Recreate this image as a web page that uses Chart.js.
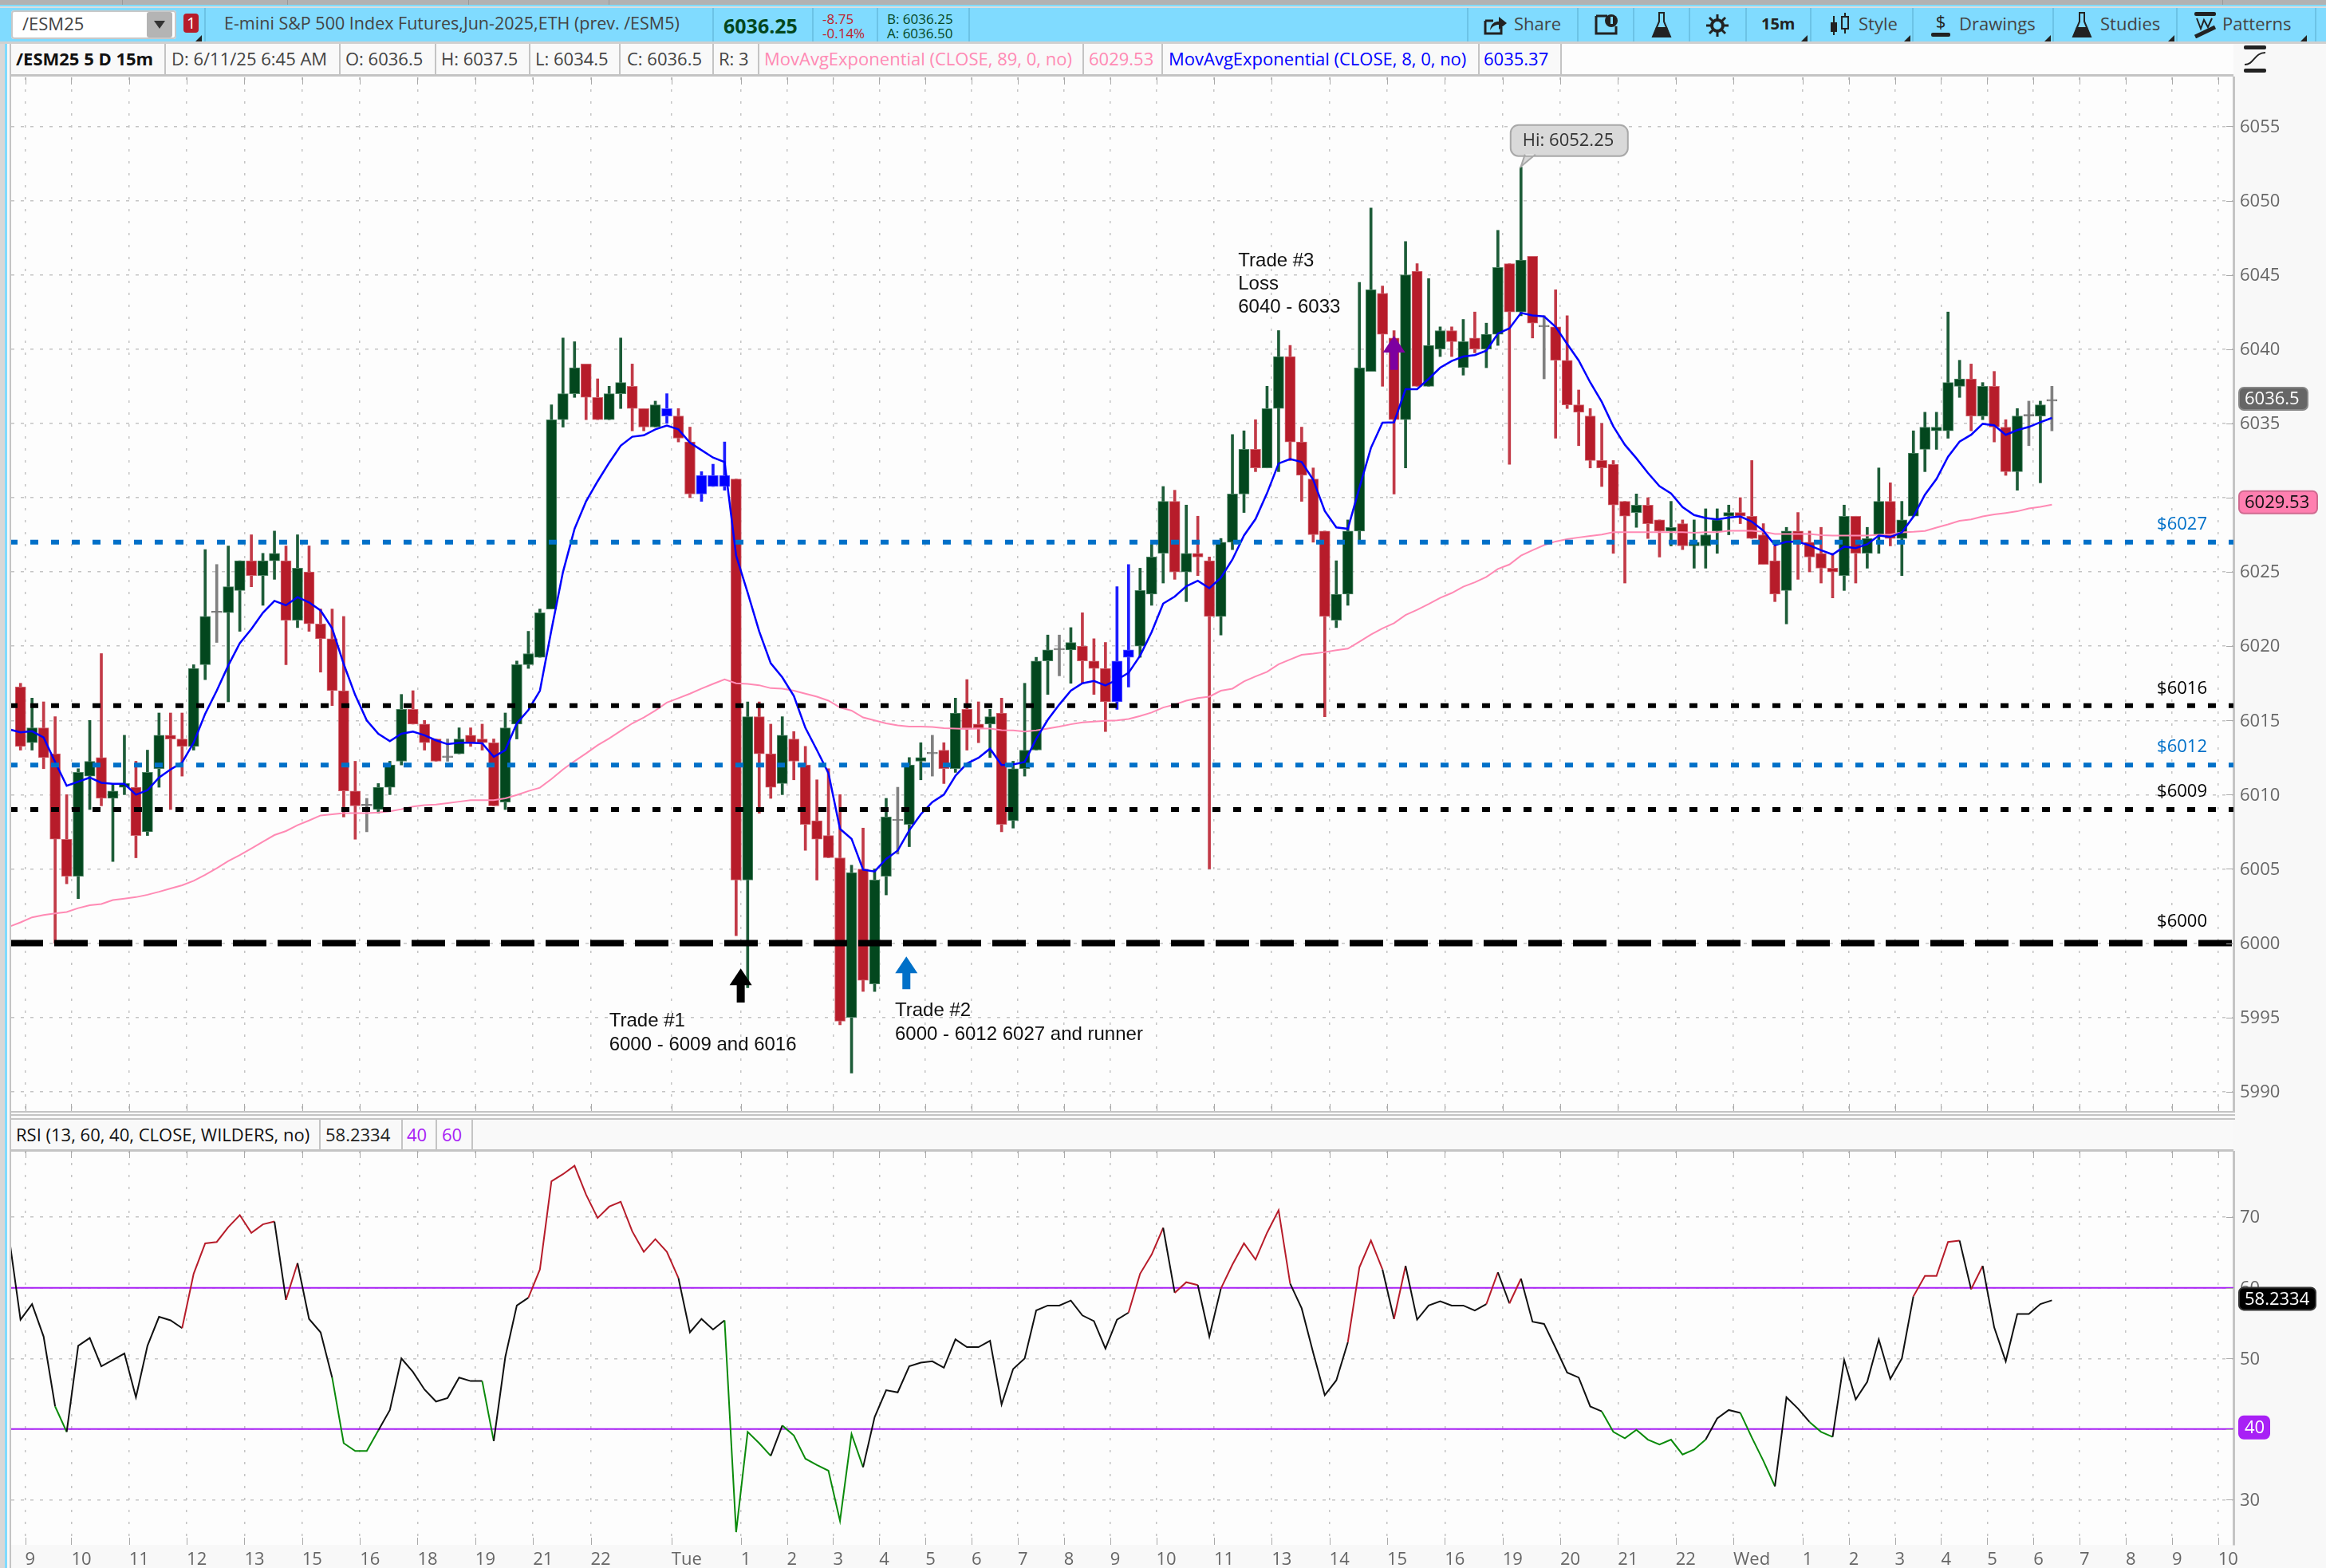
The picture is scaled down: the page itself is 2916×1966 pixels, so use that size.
<!DOCTYPE html>
<html>
<head>
<meta charset="utf-8">
<title>/ESM25 5 D 15m</title>
<script src="https://cdn.jsdelivr.net/npm/chart.js@4"></script>
<style>
  html, body { margin: 0; padding: 0; background: #f8f8f8; }
  body { position: relative; width: 2916px; height: 1966px; overflow: hidden; font-family: "Open Sans", sans-serif; }
  canvas { position: absolute; left: 0; }
  .box { position: absolute; }
  .t { position: absolute; white-space: nowrap; line-height: 1; transform: translateY(-50%); font-size: 22px; color: #444; }
  .div { position: absolute; width: 2px; background: #c4c4c4; }
  .bar-div { position: absolute; width: 2px; top: 10px; height: 42px; background: #6cc3e6; }
  svg { position: absolute; }
</style>
</head>
<body>
  <!-- window chrome -->
  <div class="box" style="left:0;top:0;width:2916px;height:6px;background:#b2b2b2"></div>
  <div class="box" style="left:0;top:6px;width:2916px;height:2px;background:#80dbff"></div>
  <div class="box" style="left:0;top:8px;width:2916px;height:2px;background:#dcdcdc"></div>
  <div class="box" style="left:0;top:10px;width:2916px;height:42px;background:#80dbff"></div>
  <div class="box" style="left:0;top:52px;width:2916px;height:3px;background:#d0d0d0"></div>
  <div class="box" style="left:0;top:55px;width:6px;height:1911px;background:#d8d8d8"></div>
  <div class="box" style="left:6px;top:55px;width:3px;height:1911px;background:#80dbff"></div>
  <div class="box" style="left:12px;top:55px;width:2px;height:1911px;background:#c4c4c4"></div>
  <div class="box" style="left:153px;top:0;width:1px;height:6px;background:#999"></div>
  <div class="box" style="left:360px;top:0;width:1px;height:6px;background:#999"></div>
  <div class="box" style="left:587px;top:0;width:1px;height:6px;background:#999"></div>
  <div class="box" style="left:763px;top:0;width:1px;height:6px;background:#999"></div>
  <div class="box" style="left:2786px;top:0;width:1px;height:6px;background:#999"></div>

  <!-- symbol box -->
  <div class="box" style="left:14px;top:13px;width:207px;height:36px;background:#fff;border-radius:4px;box-shadow:0 0 0 2px #c8c8c8 inset"></div>
  <div class="box" style="left:184px;top:15px;width:32px;height:32px;background:#b4b4b4;border-radius:3px"></div>
  <svg style="left:193px;top:26px" width="14" height="10"><path d="M0 0H14L7 10Z" fill="#333"/></svg>
  <div class="t" style="left:28px;top:29px">/ESM25</div>
  <div class="box" style="left:230px;top:17px;width:19px;height:24px;background:#b71c2a;border-radius:4px"></div>
  <div class="t" style="left:234px;top:29px;color:#fff;font-size:20px">1</div>
  <svg style="left:245px;top:44px" width="8" height="8"><path d="M8 0V8H0Z" fill="#222"/></svg>
  <div class="bar-div" style="left:256px"></div>
  <div class="t" style="left:281px;top:29px;font-size:21.5px">E-mini S&amp;P 500 Index Futures,Jun-2025,ETH (prev. /ESM5)</div>
  <div class="bar-div" style="left:893px"></div>
  <div class="t" style="left:907px;top:32px;font-size:25px;font-weight:700;color:#03471e">6036.25</div>
  <div class="bar-div" style="left:1018px"></div>
  <div class="t" style="left:1031px;top:23px;font-size:17px;color:#c0202c">-8.75</div>
  <div class="t" style="left:1031px;top:41px;font-size:17px;color:#c0202c">-0.14%</div>
  <div class="bar-div" style="left:1099px"></div>
  <div class="t" style="left:1112px;top:23px;font-size:17px;color:#03471e">B: 6036.25</div>
  <div class="t" style="left:1112px;top:41px;font-size:17px;color:#03471e">A: 6036.50</div>
  <div class="bar-div" style="left:1214px"></div>

  <!-- right side of the toolbar -->
  <div class="bar-div" style="left:1839px"></div>
  <svg style="left:1860px;top:18px" width="30" height="26"><path d="M2 8H12M2 8V24H22V16" fill="none" stroke="#222" stroke-width="3"/><path d="M8 20C9 11 14 9 19 9V3L29 11L19 19V13C14 13 11 15 8 20Z" fill="#222"/></svg>
  <div class="t" style="left:1898px;top:29px">Share</div>
  <div class="bar-div" style="left:1977px"></div>
  <svg style="left:1999px;top:17px" width="30" height="28"><path d="M2 3H16M2 3V25H27V16" fill="none" stroke="#222" stroke-width="3"/><circle cx="21" cy="9" r="8" fill="#222"/><rect x="20" y="4" width="3" height="9" fill="#80dbff"/></svg>
  <div class="bar-div" style="left:2047px"></div>
  <svg style="left:2070px;top:14px" width="26" height="34"><path d="M9 2H17M10 2V13L2 32H24L16 13V2" fill="none" stroke="#222" stroke-width="2"/><path d="M6 20H20L24 32H2Z" fill="#222"/></svg>
  <div class="bar-div" style="left:2117px"></div>
  <svg style="left:2139px;top:18px" width="28" height="28"><circle cx="14" cy="14" r="7" fill="none" stroke="#222" stroke-width="4"/><path d="M14 0V28M0 14H28M4 4L24 24M24 4L4 24" stroke="#222" stroke-width="3"/><circle cx="14" cy="14" r="5" fill="#80dbff"/></svg>
  <div class="bar-div" style="left:2188px"></div>
  <div class="t" style="left:2208px;top:30px;font-size:20px;font-weight:700;color:#222">15m</div>
  <svg style="left:2258px;top:44px" width="8" height="8"><path d="M8 0V8H0Z" fill="#222"/></svg>
  <div class="bar-div" style="left:2269px"></div>
  <svg style="left:2293px;top:14px" width="26" height="34"><path d="M6 6V30M20 2V28" stroke="#222" stroke-width="2"/><rect x="2" y="14" width="8" height="12" fill="#222"/><rect x="16" y="7" width="8" height="15" fill="#80dbff" stroke="#222" stroke-width="2"/></svg>
  <div class="t" style="left:2330px;top:29px">Style</div>
  <svg style="left:2387px;top:44px" width="8" height="8"><path d="M8 0V8H0Z" fill="#222"/></svg>
  <div class="bar-div" style="left:2397px"></div>
  <svg style="left:2421px;top:14px" width="24" height="34"><rect x="0" y="27" width="24" height="5" rx="2" fill="#222"/><text x="12" y="21" text-anchor="middle" font-size="22" font-family="Open Sans" fill="#222">$</text></svg>
  <div class="t" style="left:2456px;top:29px">Drawings</div>
  <svg style="left:2563px;top:44px" width="8" height="8"><path d="M8 0V8H0Z" fill="#222"/></svg>
  <div class="bar-div" style="left:2573px"></div>
  <svg style="left:2597px;top:14px" width="26" height="34"><path d="M9 2H17M10 2V13L2 32H24L16 13V2" fill="none" stroke="#222" stroke-width="2"/><path d="M6 20H20L24 32H2Z" fill="#222"/></svg>
  <div class="t" style="left:2633px;top:29px">Studies</div>
  <svg style="left:2718px;top:44px" width="8" height="8"><path d="M8 0V8H0Z" fill="#222"/></svg>
  <div class="bar-div" style="left:2728px"></div>
  <svg style="left:2751px;top:14px" width="28" height="34"><rect x="0" y="1" width="27" height="5" rx="2" fill="#222"/><path d="M3 9L8 22L12 11L17 20L22 9" fill="none" stroke="#222" stroke-width="2"/><path d="M1 32L26 20" stroke="#222" stroke-width="5"/></svg>
  <div class="t" style="left:2786px;top:29px">Patterns</div>
  <svg style="left:2884px;top:44px" width="8" height="8"><path d="M8 0V8H0Z" fill="#222"/></svg>
  <div class="bar-div" style="left:2902px"></div>

  <!-- study legend, price pane -->
  <div class="box" style="left:14px;top:55px;width:1942px;height:38px;background:#f9f9f9;border-bottom:3px solid #c4c4c4"></div>
  <div class="box" style="left:1956px;top:55px;width:844px;height:38px;background:#fdfdfd;border-bottom:3px solid #c4c4c4"></div>
  <div class="t" style="left:20px;top:73px;font-weight:700;color:#111">/ESM25 5 D 15m</div>
  <div class="div" style="left:206px;top:55px;height:38px"></div>
  <div class="t" style="left:215px;top:73px">D: 6/11/25 6:45 AM</div>
  <div class="div" style="left:425px;top:55px;height:38px"></div>
  <div class="t" style="left:433px;top:73px">O: 6036.5</div>
  <div class="div" style="left:545px;top:55px;height:38px"></div>
  <div class="t" style="left:553px;top:73px">H: 6037.5</div>
  <div class="div" style="left:663px;top:55px;height:38px"></div>
  <div class="t" style="left:671px;top:73px">L: 6034.5</div>
  <div class="div" style="left:776px;top:55px;height:38px"></div>
  <div class="t" style="left:786px;top:73px">C: 6036.5</div>
  <div class="div" style="left:893px;top:55px;height:38px"></div>
  <div class="t" style="left:901px;top:73px">R: 3</div>
  <div class="div" style="left:950px;top:55px;height:38px"></div>
  <div class="t" style="left:958px;top:73px;color:#ff8ab4">MovAvgExponential (CLOSE, 89, 0, no)</div>
  <div class="div" style="left:1357px;top:55px;height:38px"></div>
  <div class="t" style="left:1365px;top:73px;color:#ff8ab4">6029.53</div>
  <div class="div" style="left:1456px;top:55px;height:38px"></div>
  <div class="t" style="left:1465px;top:73px;color:#0000ff">MovAvgExponential (CLOSE, 8, 0, no)</div>
  <div class="div" style="left:1853px;top:55px;height:38px"></div>
  <div class="t" style="left:1860px;top:73px;color:#0000ff">6035.37</div>
  <div class="div" style="left:1956px;top:55px;height:38px"></div>
  <svg style="left:2812px;top:57px" width="30" height="34"><rect x="1" y="0" width="28" height="5" rx="2" fill="#222"/><rect x="1" y="29" width="28" height="5" rx="2" fill="#222"/><path d="M2 24C14 24 14 9 28 9" fill="none" stroke="#222" stroke-width="2"/></svg>

  <!-- panes -->
  <div class="box" style="left:14px;top:96px;width:2786px;height:1297px;background:#fdfdfd"></div>
  <div class="box" style="left:14px;top:1393px;width:2788px;height:2px;background:#c4c4c4"></div>
  <div class="box" style="left:14px;top:1397px;width:2788px;height:2px;background:#c4c4c4"></div>
  <div class="box" style="left:14px;top:1402px;width:2788px;height:2px;background:#c4c4c4"></div>
  <div class="box" style="left:14px;top:1404px;width:2786px;height:37px;background:#f9f9f9;border-bottom:3px solid #c4c4c4"></div>
  <div class="box" style="left:14px;top:1444px;width:2786px;height:493px;background:#fdfdfd"></div>
  <div class="t" style="left:20px;top:1422px;color:#111">RSI (13, 60, 40, CLOSE, WILDERS, no)</div>
  <div class="div" style="left:400px;top:1404px;height:37px"></div>
  <div class="t" style="left:408px;top:1422px;color:#222">58.2334</div>
  <div class="div" style="left:503px;top:1404px;height:37px"></div>
  <div class="t" style="left:510px;top:1422px;color:#a820f5">40</div>
  <div class="div" style="left:546px;top:1404px;height:37px"></div>
  <div class="t" style="left:554px;top:1422px;color:#a820f5">60</div>
  <div class="div" style="left:591px;top:1404px;height:37px"></div>

  <canvas id="price" width="2916" height="1393" style="top:0"></canvas>
  <canvas id="rsi" width="2916" height="523" style="top:1443px"></canvas>

<script>
// 15m bars, bar 0 is the first bar on the chart
const opens = [6017.25,6013.5,6014.5,6012.75,6007,6004.5,6011.25,6012.5,6009.75,6010.5,
  6010.5,6007.5,6011.75,6014,6013.75,6013.25,6018.75,6022.25,6022.25,6023.75,
  6025.75,6024.75,6025.75,6025.75,6021.75,6025,6021.5,6020.5,6017,6010.25,
  6009.25,6009,6010.5,6012.25,6015.75,6014.75,6013.75,6012.5,6012.75,6014,
  6013.75,6013.5,6009.5,6014.75,6018.75,6019.25,6022.5,6035.25,6037,6039,
  6036.75,6035.25,6037,6037.5,6036,6034.75,6035.5,6035.5,6033.75,6030.25,
  6031.5,6030.75,6031.25,6004.25,6015.25,6012.75,6010.75,6013.75,6012,6008.25,
  6007.25,6005.75,5995,6005,5997.25,6004.5,6008.25,6008,6012.25,6012.75,
  6013,6011.75,6015.75,6014.75,6014.75,6015.5,6008.25,6011.75,6013,6019,
  6019.75,6019.75,6020,6019,6018.5,6016.25,6019.25,6020,6023.5,6026.25,
  6029.75,6025,6026.25,6025.75,6022,6027,6030.25,6033.25,6032,6036,
  6039.5,6033.75,6031.25,6027.75,6021.75,6023.5,6027.75,6038.5,6043.75,6040.75,
  6035.25,6045.25,6037.5,6040,6041.25,6038.75,6040.75,6040,6041,6045.75,
  6042.5,6046.25,6041.5,6041.5,6039.25,6036.25,6035.5,6032.5,6032.25,6029.75,
  6029,6029.5,6028.5,6027.75,6028.25,6026.75,6026.75,6027.75,6028.75,6029,
  6028.75,6027.5,6025.75,6023.75,6027.75,6027,6026.25,6025.25,6024.75,6028.75,
  6026.25,6027.5,6029.75,6027.25,6028.75,6033.25,6034.5,6034.5,6037.5,6038,
  6035.5,6037.5,6034.75,6031.75,6035.5,6035.5,6036.5];
const closes = [6013.25,6014.5,6012.5,6007,6004.5,6011.5,6012.25,6009.75,6010.25,6010.75,
  6007.25,6011.5,6014,6013.75,6013.25,6018.5,6022,6022.25,6024,6025.75,
  6024.75,6025.75,6026.25,6021.75,6025.25,6021.5,6020.5,6017,6010.25,6009.25,
  6009.25,6010.5,6012,6015.75,6014.75,6013.5,6012.25,6012.5,6013.75,6013.5,
  6013.5,6009.25,6014.5,6018.75,6019.5,6022.25,6035.25,6037,6038.75,6036.75,
  6035.25,6037,6037.75,6036,6034.75,6036.25,6036,6034,6030.25,6031.5,
  6030.75,6031.5,6004.25,6015.25,6012.75,6010.5,6014,6012.25,6008,6007,
  6005.75,5994.75,6004.75,5997.5,6004.25,6008.5,6008.25,6012,6012.5,6012.75,
  6011.75,6015.5,6014.5,6014.5,6015.25,6008,6011.75,6013,6019,6019.75,
  6019.75,6020.25,6019,6018.5,6016.25,6019,6019.75,6023.75,6026,6029.75,
  6025,6026.25,6026,6022,6027,6030.25,6033.25,6032,6036,6039.5,
  6033.75,6031.5,6027.5,6022,6023.5,6027.75,6038.75,6044,6041,6035.25,
  6045,6037.5,6040.25,6041.25,6040.5,6040.5,6040,6041,6045.5,6042.5,
  6046,6041.75,6041.5,6039.25,6036.25,6035.75,6032.5,6032,6029.5,6028.75,
  6029.5,6028.25,6027.75,6028,6026.75,6027,6027.5,6028.5,6029,6028.75,
  6027.25,6025.5,6023.5,6027.75,6027,6026,6025.25,6025,6028.75,6026.25,
  6027.25,6029.75,6027.25,6028.5,6033,6034.75,6034.75,6037.75,6038,6035.5,
  6037.5,6034.75,6031.75,6035.5,6035.5,6036.25,6036.5];
const highs = [6017.5,6016.5,6016.25,6015.25,6010,6011.75,6015,6019.5,6010.75,6014,
  6012.25,6013,6015.5,6015.5,6015.5,6018.75,6026.5,6025.5,6026.75,6025.75,
  6027.5,6026.25,6027.75,6026.75,6027.5,6026.75,6022.5,6022.5,6022,6012.25,
  6009.75,6010.75,6012.25,6016.75,6017,6015,6013.75,6013.75,6014.5,6014.5,
  6014.75,6013.75,6015.5,6019,6021,6022.5,6036.25,6040.75,6040.5,6039,
  6038,6037.5,6040.75,6039,6036,6036.5,6037,6036,6034.75,6031.75,
  6032.25,6033.75,6031.25,6016.25,6016.25,6014.75,6015.25,6014.25,6013.25,6011,
  6011.75,6010,6005.25,6007.75,6005,6009.75,6010.5,6012.5,6013.5,6014,
  6013.5,6016.5,6017.75,6016.25,6015.75,6016.5,6012.25,6017.5,6019.25,6020.75,
  6020.75,6021.25,6022.25,6020.5,6020.25,6024,6025.5,6025.25,6027,6030.75,
  6030.5,6029.5,6028.75,6026,6027.25,6034.25,6034.5,6035.25,6037.5,6041.25,
  6040.25,6034.75,6032,6027.75,6025.75,6028.5,6044.5,6049.5,6044.25,6041.25,
  6047.25,6045.75,6044.75,6041.5,6041.5,6042,6042.5,6041.75,6048,6045.75,
  6052.25,6046.25,6042.25,6044,6042.25,6037.25,6036,6035,6032.5,6029.75,
  6030.25,6030,6028.5,6029.75,6028.5,6028.5,6029.25,6029.25,6029.5,6030,
  6032.5,6028.25,6026.75,6028,6029,6027.75,6028,6026.25,6029.5,6028.75,
  6028,6032,6031,6029.75,6034.5,6035.75,6035.75,6042.5,6039.25,6039,
  6037.75,6038.5,6035.25,6036,6036.5,6036.5,6037.5];
const lows = [6013,6013,6011.75,6000,6004,6003,6009,6009.25,6005.5,6010,
  6005.75,6007.25,6010.5,6009,6011.25,6013,6017.75,6020.25,6016.25,6021,
  6024,6022.75,6024.5,6018.75,6021.25,6021,6018.25,6016,6008.5,6007,
  6007.5,6008.75,6010,6012,6014.75,6013,6012.25,6012.25,6012.75,6013.25,
  6013,6009.25,6009,6013.75,6018.5,6019.25,6022.5,6034.75,6036.75,6035.25,
  6035.25,6035.25,6036,6034.5,6034.5,6034.75,6035,6033.75,6030,6029.75,
  6030.75,6030.5,6000.5,5997,6008.75,6009.75,6010,6011,6006.25,6004.25,
  6005.75,5994.5,5991.25,5996.75,5996.75,6003.25,6006,6006.5,6011,6011.25,
  6010.75,6011.5,6013,6013.5,6012.5,6007.5,6007.75,6011.25,6013,6016.75,
  6018,6017.5,6017.5,6016.75,6014.25,6015.75,6017.25,6019.25,6022.75,6024.25,
  6024.5,6023,6024.75,6005,6020.75,6026.5,6029,6031.75,6032,6031.75,
  6032.5,6029.75,6027,6015.25,6021.25,6022.75,6027,6038.5,6037.5,6030.25,
  6032,6037.5,6037.5,6039.5,6039.5,6038.25,6039.75,6038.75,6040.25,6032.25,
  6042.25,6040.75,6038,6034,6036,6033.5,6032,6030.75,6026.25,6024.25,
  6028,6027.25,6026,6026.75,6026.5,6025.25,6025.25,6026.25,6027.5,6028.25,
  6027.25,6025.5,6023,6021.5,6024.5,6025,6024.25,6023.25,6023.75,6024.25,
  6025.25,6026.25,6026.75,6024.75,6028.75,6031.75,6033.25,6034,6036.75,6034.5,
  6035.25,6033.75,6031.5,6030.5,6033.5,6031,6034.5];
// bars the platform painted blue
const blueBars = [56,59,60,61,95,96];

// studies start one bar before bar 0, off the left edge
const ema8 = [6014.4,6014.2,6014.27,6013.85,6012.2,6010.6,6010.87,6011.15,6010.8,6010.73,6010.73,
  6010,6010.3,6011.15,6011.7,6012.16,6013.5,6015.45,6017,6018.7,6020.2,
  6021.15,6022.25,6023.05,6022.75,6023.3,6022.95,6022.4,6021.2,6018.8,6016.7,
  6015,6014.1,6013.6,6014.1,6014.25,6014,6013.66,6013.4,6013.5,6013.5,
  6013.46,6012.55,6013,6014.8,6015.7,6017,6021.1,6025,6027.9,6029.75,
  6031.1,6032.35,6033.5,6034.1,6034.2,6034.6,6034.85,6034.6,6033.7,6033.2,
  6032.7,6032.4,6026.1,6023.6,6021,6018.85,6017.9,6016.65,6014.5,6013,
  6011.45,6007.7,6007.03,6004.95,6004.83,6005.67,6006.24,6007.6,6008.68,6009.5,
  6010,6011.27,6012.1,6012.48,6013.1,6012,6012.04,6012.2,6013.76,6015.04,
  6016.07,6017,6017.5,6017.66,6017.36,6017.74,6018.2,6019.36,6020.95,6022.87,
  6023.34,6024.03,6024.4,6023.9,6024.6,6025.84,6027.45,6028.56,6030.3,6032.3,
  6032.6,6032.4,6031.2,6029.1,6028,6027.9,6030.66,6033.35,6035.05,6035.07,
  6037.3,6037.3,6038,6038.75,6039.2,6039.5,6039.6,6039.9,6041.05,6041.4,
  6042.44,6042.27,6042.2,6041.5,6040.35,6039.24,6037.76,6036.45,6034.8,6033.56,
  6032.65,6031.66,6030.77,6030.28,6029.37,6028.83,6028.63,6028.53,6028.66,6028.73,
  6028.38,6027.77,6026.8,6027.03,6027.03,6026.78,6026.46,6026.17,6026.7,6026.6,
  6026.86,6027.45,6027.35,6027.66,6028.72,6030.2,6031.26,6032.75,6033.77,6034.23,
  6034.97,6034.87,6034.23,6034.55,6034.76,6035.08,6035.37];
const ema89 = [6001.1,6001.4,6001.74,6001.9,6002,6002.1,6002.36,6002.56,6002.64,6002.9,6003,
  6003.1,6003.26,6003.46,6003.68,6003.9,6004.2,6004.6,6005.05,6005.53,6005.93,
  6006.38,6006.83,6007.28,6007.55,6007.95,6008.26,6008.6,6008.68,6008.76,6008.76,
  6008.76,6008.8,6008.88,6009.02,6009.2,6009.3,6009.33,6009.43,6009.53,6009.63,
  6009.63,6009.63,6009.75,6009.98,6010.24,6010.47,6011.05,6011.7,6012.26,6012.78,
  6013.33,6013.79,6014.3,6014.8,6015.2,6015.67,6016.2,6016.5,6016.8,6017.14,
  6017.46,6017.76,6017.5,6017.46,6017.37,6017.17,6017.14,6017,6016.8,6016.6,
  6016.33,6015.87,6015.66,6015.2,6015,6014.8,6014.66,6014.58,6014.58,6014.56,
  6014.48,6014.45,6014.43,6014.45,6014.45,6014.35,6014.33,6014.25,6014.33,6014.45,
  6014.58,6014.74,6014.87,6014.92,6014.97,6015,6015.1,6015.3,6015.53,6015.87,
  6016.07,6016.33,6016.5,6016.6,6017,6017.14,6017.63,6017.96,6018.27,6018.78,
  6019.1,6019.42,6019.5,6019.6,6019.73,6019.83,6020.3,6020.78,6021.2,6021.55,
  6022.1,6022.45,6022.83,6023.25,6023.58,6024,6024.3,6024.66,6025.2,6025.5,
  6026.1,6026.46,6026.8,6027.05,6027.2,6027.32,6027.42,6027.52,6027.67,6027.67,
  6027.67,6027.67,6027.67,6027.67,6027.67,6027.64,6027.67,6027.67,6027.77,6027.77,
  6027.77,6027.7,6027.55,6027.55,6027.55,6027.55,6027.47,6027.45,6027.45,6027.45,
  6027.45,6027.5,6027.52,6027.66,6027.7,6027.76,6027.98,6028.2,6028.44,6028.53,
  6028.74,6028.87,6028.97,6029.08,6029.27,6029.38,6029.53];
const rsiValues = [67.3,55.5,57.7,53.1,43.2,39.6,51.8,52.9,48.9,49.8,50.7,
  44.5,51.8,55.9,55.4,54.3,62,66.3,66.5,68.6,70.3,
  67.8,69,69.4,58.3,63.5,55.6,53.7,47.3,38,36.9,
  36.9,39.8,42.7,50,48.1,45.6,43.9,44.4,47.3,46.8,
  46.8,38.3,50.2,57.5,58.6,62.6,75.1,76.1,77.3,73.2,
  69.9,71.5,72.2,68,65.1,66.9,65.1,61.4,53.7,55.6,
  54.1,55.4,25.4,39.6,38,36.2,40.5,39.1,35.8,34.9,
  34.1,27,39.3,34.6,41.7,45.5,45.2,48.9,49.4,49.6,
  48.7,52.7,51.6,51.6,52.5,43.5,48.5,50,56.8,57.5,
  57.5,58.2,56.1,55.3,51.4,55.5,56.5,62,64.7,68.5,
  59.3,60.8,60.4,53.1,59.9,63.3,66.3,64,67.8,71,
  60.6,57.1,50.8,44.8,46.9,52.3,62.9,66.7,62.6,55.6,
  63.1,55.5,57.5,58.1,57.5,57.5,56.8,57.7,62.2,57.8,
  61.3,55.2,54.9,51.5,48,47.3,43.2,42.5,39.6,38.7,
  39.9,38.5,37.8,38.5,36.4,37.1,38.5,41.5,42.7,42.3,
  38.8,35.5,31.9,44.5,42.9,41,39.6,38.9,49.8,44.2,
  46.7,52.7,47.1,50,58.8,61.7,61.7,66.5,66.7,59.8,
  63.1,54.4,49.6,56.3,56.3,57.7,58.2334];

// time axis, first bar of each labelled period
const tickBars = [0,4,9,14,19,24,29,34,39,44,49,56,62,66,70,74,78,82,86,90,94,98,103,108,113,118,123,128,133,138,143,148,154,158,162,166,170,174,178,182,186,190];
const tickLabels = ['9','10','11','12','13','15','16','18','19','21','22','Tue','1','2','3','4','5','6','7','8','9','10','11','13','14','15','16','19','20','21','22','Wed','1','2','3','4','5','6','7','8','9','10'];
const priceTicks = [5990,5995,6000,6005,6010,6015,6020,6025,6030,6035,6040,6045,6050,6055];
const rsiTicks = [30,40,50,60,70];

const blackLevels = [6016,6009];
const blueLevels = [6027,6012];
const rsiLevels = [60,40];

const RED = '#b71c2a', GREEN = '#03471e', BLUE = '#0000ff', GRAY = '#777777';
const FONT = '"Open Sans", sans-serif';
const X_MIN = -0.81, X_MAX = 191.73;

function barColor(i, up, down, flat, blue) {
  if (blueBars.includes(i)) return blue;
  if (closes[i] > opens[i]) return up;
  if (closes[i] < opens[i]) return down;
  return flat;
}

function levelLine(value, color, width, dash) {
  return {
    type: 'line',
    data: [{ x: -0.95, y: value }, { x: X_MAX, y: value }],
    borderColor: color,
    borderWidth: width,
    borderDash: dash,
    borderCapStyle: 'butt',
    pointRadius: 0,
    order: 0
  };
}

function studyLine(values, color, width, order) {
  return {
    type: 'line',
    data: values.map((v, i) => ({ x: i - 1, y: v })),
    borderColor: color,
    borderWidth: width,
    pointRadius: 0,
    tension: 0,
    order: order
  };
}

function badge(ctx, x, yMid, w, text, bg, fg, border) {
  ctx.save();
  ctx.beginPath();
  ctx.roundRect(x, yMid - 14, w, 28, 6);
  ctx.fillStyle = bg;
  ctx.fill();
  ctx.lineWidth = 2;
  ctx.strokeStyle = border;
  ctx.stroke();
  ctx.fillStyle = fg;
  ctx.font = '22px ' + FONT;
  ctx.textBaseline = 'middle';
  ctx.fillText(text, x + 7, yMid + 1);
  ctx.restore();
}

// short solid marks where the dotted grid meets the pane edges
const edgeTicks = {
  id: 'edgeTicks',
  afterDraw(chart) {
    const { ctx, chartArea: a, scales } = chart;
    ctx.save();
    ctx.strokeStyle = '#aaaaaa';
    ctx.lineWidth = 1;
    ctx.beginPath();
    scales.x.ticks.forEach(t => {
      const x = Math.round(scales.x.getPixelForValue(t.value)) + 0.5;
      ctx.moveTo(x, a.top); ctx.lineTo(x, a.top + 9);
      ctx.moveTo(x, a.bottom - 9); ctx.lineTo(x, a.bottom);
    });
    scales.y.ticks.forEach(t => {
      const y = Math.round(scales.y.getPixelForValue(t.value)) + 0.5;
      ctx.moveTo(a.right - 9, y); ctx.lineTo(a.right, y);
    });
    ctx.stroke();
    ctx.restore();
  }
};

function arrow(ctx, scales, bar, tip, tail, color) {
  const x = scales.x.getPixelForValue(bar);
  const yTip = scales.y.getPixelForValue(tip);
  const yTail = scales.y.getPixelForValue(tail);
  ctx.fillStyle = color;
  ctx.beginPath();
  ctx.moveTo(x, yTip);
  ctx.lineTo(x + 14, yTip + 21);
  ctx.lineTo(x + 5, yTip + 21);
  ctx.lineTo(x + 5, yTail);
  ctx.lineTo(x - 5, yTail);
  ctx.lineTo(x - 5, yTip + 21);
  ctx.lineTo(x - 14, yTip + 21);
  ctx.closePath();
  ctx.fill();
}

const priceNotes = {
  id: 'priceNotes',
  afterDatasetsDraw(chart) {
    const { ctx, scales } = chart;
    const xp = v => scales.x.getPixelForValue(v);
    const yp = v => scales.y.getPixelForValue(v);
    ctx.save();

    arrow(ctx, scales, 62.4, 5998.3, 5996, '#000000');
    arrow(ctx, scales, 76.75, 5999.1, 5996.9, '#0070c8');
    arrow(ctx, scales, 119, 6040.9, 6038.6, '#7d00a0');

    // trade notes
    ctx.fillStyle = '#111111';
    ctx.font = '24px "Liberation Sans", sans-serif';
    ctx.textBaseline = 'middle';
    [['Trade #1', 51, 5994.74], ['6000 - 6009 and 6016', 51, 5993.13],
     ['Trade #2', 75.76, 5995.42], ['6000 - 6012 6027 and runner', 75.76, 5993.86],
     ['Trade #3', 105.5, 6045.94], ['Loss', 105.5, 6044.36], ['6040 - 6033', 105.5, 6042.82]
    ].forEach(n => ctx.fillText(n[0], xp(n[1]), yp(n[2])));

    // level captions
    ctx.font = '22px ' + FONT;
    [['$6027', 6027, '#0070c8', 22], ['$6016', 6016, '#000000', 21],
     ['$6012', 6012, '#0070c8', 22], ['$6009', 6009, '#000000', 22], ['$6000', 6000, '#000000', 27]
    ].forEach(n => {
      ctx.fillStyle = n[2];
      ctx.fillText(n[0], xp(185.1), yp(n[1]) - n[3]);
    });

    // high callout, tail points at the top of bar 130
    const tipX = xp(130), tipY = yp(highs[130]);
    ctx.beginPath();
    ctx.roundRect(tipX - 13, tipY - 53, 147, 39, 10);
    ctx.moveTo(tipX + 5, tipY - 16);
    ctx.lineTo(tipX, tipY - 1);
    ctx.lineTo(tipX + 18, tipY - 16);
    ctx.fillStyle = '#d9d9d9';
    ctx.fill();
    ctx.strokeStyle = '#a8a8a8';
    ctx.lineWidth = 2;
    ctx.stroke();
    ctx.fillStyle = '#333333';
    ctx.fillText('Hi: 6052.25', tipX + 2, tipY - 33);

    badge(ctx, 2807, yp(6036.5) - 3, 86, '6036.5', '#666666', '#ffffff', '#888888');
    badge(ctx, 2807, yp(6029.53) - 3, 98, '6029.53', '#ff7fb0', '#111111', '#d06a90');
    ctx.restore();
  }
};

const rsiNotes = {
  id: 'rsiNotes',
  afterDraw(chart) {
    const { ctx, scales } = chart;
    badge(ctx, 2807, scales.y.getPixelForValue(58.2334) - 2, 96, '58.2334', '#000000', '#ffffff', '#333333');
    badge(ctx, 2807, scales.y.getPixelForValue(40) - 2, 38, '40', '#a820f5', '#ffffff', '#a820f5');
  }
};

function timeAxis(showLabels) {
  return {
    type: 'linear',
    min: X_MIN,
    max: X_MAX,
    offset: false,
    afterBuildTicks: scale => { scale.ticks = tickBars.map(b => ({ value: b + 0.4 })); },
    afterFit: scale => {
      scale.height = showLabels ? 29 : 0;
      scale.paddingLeft = 0;
      scale.paddingRight = 0;
    },
    border: { display: false, dash: [3, 12] },
    grid: { offset: false, color: '#c4c4c4', lineWidth: 1.5, drawTicks: false },
    ticks: {
      display: showLabels,
      autoSkip: false,
      maxRotation: 0,
      align: 'start',
      padding: 6,
      color: '#666666',
      font: { family: FONT, size: 22 },
      callback: (value, index) => tickLabels[index]
    }
  };
}

function valueAxis(min, max, values) {
  return {
    position: 'right',
    min: min,
    max: max,
    afterBuildTicks: scale => { scale.ticks = values.map(v => ({ value: v })); },
    afterFit: scale => {
      scale.width = 116;
      scale.paddingTop = 0;
      scale.paddingBottom = 0;
    },
    border: { display: true, color: '#c4c4c4', width: 3, dash: [4, 8] },
    grid: { color: '#c4c4c4', lineWidth: 1.5, drawTicks: false },
    ticks: {
      padding: 8,
      labelOffset: 1,
      color: '#666666',
      font: { family: FONT, size: 22 },
      callback: value => String(value)
    }
  };
}

const barIndex = opens.map((v, i) => i);

new Chart(document.getElementById('price'), {
  data: {
    datasets: [
      levelLine(6000, '#000000', 8, [42, 14]),
      ...blackLevels.map(v => levelLine(v, '#000000', 6, [10, 16])),
      ...blueLevels.map(v => levelLine(v, '#0070c8', 6, [10, 16])),
      studyLine(ema8, BLUE, 2.5, 1),
      studyLine(ema89, '#ff8ab4', 2, 2),
      {
        type: 'bar',
        data: barIndex.map(i => ({ x: i, y: [opens[i], closes[i]] })),
        barThickness: 13,
        minBarLength: 2,
        grouped: false,
        backgroundColor: barIndex.map(i => barColor(i, GREEN, RED, GRAY, BLUE)),
        borderColor: barIndex.map(i => barColor(i, '#4f8566', '#d0656f', GRAY, '#5a5aff')),
        borderWidth: 1,
        borderSkipped: false,
        order: 3
      },
      {
        type: 'bar',
        data: barIndex.map(i => ({ x: i, y: [lows[i], highs[i]] })),
        barThickness: 3,
        grouped: false,
        backgroundColor: barIndex.map(i => barColor(i, '#1d5c38', '#c23a47', '#808080', '#1c1cff')),
        order: 4
      }
    ]
  },
  options: {
    responsive: false,
    animation: false,
    events: [],
    devicePixelRatio: 1,
    layout: { padding: { left: 14, top: 97, right: 0, bottom: 0 } },
    plugins: { legend: { display: false }, tooltip: { enabled: false } },
    scales: { x: timeAxis(false), y: valueAxis(5988.7, 6058.3, priceTicks) }
  },
  plugins: [edgeTicks, priceNotes]
});

new Chart(document.getElementById('rsi'), {
  data: {
    datasets: [
      ...rsiLevels.map(v => ({
        type: 'line',
        data: [{ x: X_MIN, y: v }, { x: X_MAX, y: v }],
        borderColor: '#a820f5',
        borderWidth: 2,
        pointRadius: 0,
        order: 2
      })),
      {
        type: 'line',
        data: rsiValues.map((v, i) => ({ x: i - 1, y: v })),
        borderWidth: 2,
        pointRadius: 0,
        tension: 0,
        order: 1,
        segment: {
          borderColor: c => c.p1.parsed.y > 60 ? RED : (c.p1.parsed.y < 40 ? '#0a8a0a' : '#111111')
        }
      }
    ]
  },
  options: {
    responsive: false,
    animation: false,
    events: [],
    devicePixelRatio: 1,
    layout: { padding: { left: 14, top: 0, right: 0, bottom: 0 } },
    plugins: { legend: { display: false }, tooltip: { enabled: false } },
    scales: { x: timeAxis(true), y: valueAxis(23.6, 79.4, rsiTicks) }
  },
  plugins: [edgeTicks, rsiNotes]
});
</script>
</body>
</html>
